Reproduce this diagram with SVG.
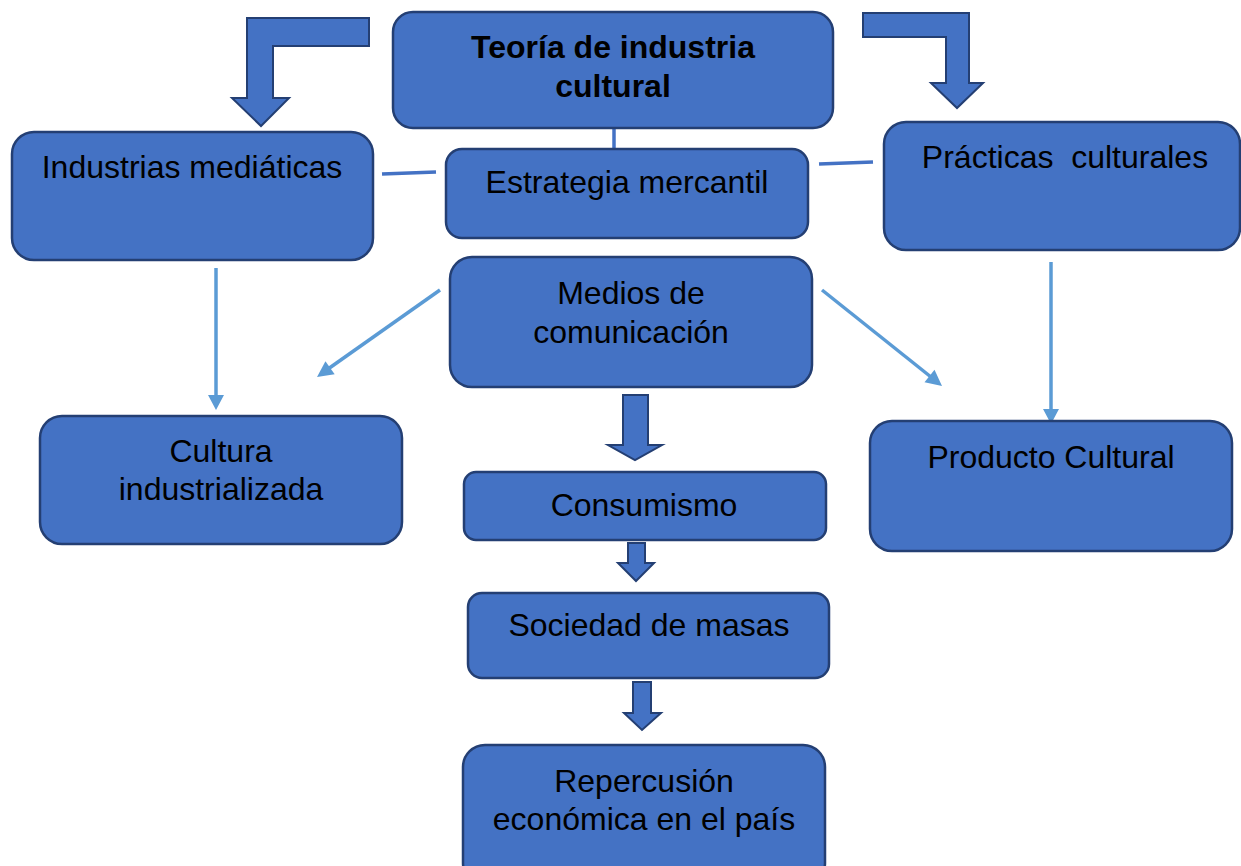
<svg xmlns="http://www.w3.org/2000/svg" width="1241" height="866" viewBox="0 0 1241 866">
<style>
.box{fill:#4472C4;stroke:#243F73;stroke-width:2.5}
.blk{fill:#4472C4;stroke:#243F73;stroke-width:2;stroke-linejoin:miter}
.t{font-family:"Liberation Sans",Arial,sans-serif;font-size:32px;fill:#000;text-anchor:middle;white-space:pre}
.b{font-weight:bold}
.ln{stroke:#4472C4;stroke-width:3.5;fill:none}
.ar{stroke:#5B9BD5;stroke-width:3.5;fill:none}
.ah{fill:#5B9BD5}
</style>
<rect width="1241" height="866" fill="#fff"/>
<g id="connectors">
<line class="ln" x1="614" y1="128" x2="614" y2="149"/>
<line class="ln" x1="382" y1="174" x2="436" y2="172"/>
<line class="ln" x1="819" y1="164" x2="873" y2="162"/>
<line class="ar" x1="216" y1="268" x2="216" y2="396"/>
<polygon class="ah" points="216,410 208,395 224,395"/>
<line class="ar" x1="440" y1="290" x2="328" y2="369"/>
<polygon class="ah" points="0,0 -16,-8 -16,8" transform="translate(317,377) rotate(144.7)"/>
<line class="ar" x1="822" y1="290" x2="931" y2="377"/>
<polygon class="ah" points="0,0 -16,-8 -16,8" transform="translate(942,386) rotate(38.7)"/>
<line class="ar" x1="1051" y1="262" x2="1051" y2="410"/>
<polygon class="ah" points="1051,424 1043,409 1059,409"/>
<polygon class="blk" points="369,18 247,18 247,98 232,98 261,126 289,98 273,98 273,46 369,46"/>
<polygon class="blk" points="863,13 969,13 969,83 983,83 957,108 931,83 946,83 946,37 863,37"/>
<polygon class="blk" points="623,395 648,395 648,445 662,445 635,460 608,445 623,445"/>
<polygon class="blk" points="628,543 645,543 645,563 654,563 636,581 618,563 628,563"/>
<polygon class="blk" points="633,682 651,682 651,713 661,713 642,730 624,713 633,713"/>
</g>
<g id="teoria">
<rect class="box" x="393" y="12" width="440" height="116" rx="20"/>
<text class="t b" x="613" y="58">Teoría de industria</text>
<text class="t b" x="613" y="97">cultural</text>
</g>
<g id="estrategia">
<rect class="box" x="446" y="149" width="362" height="89" rx="16"/>
<text class="t" x="627" y="193">Estrategia mercantil</text>
</g>
<g id="industrias">
<rect class="box" x="12" y="132" width="361" height="128" rx="22"/>
<text class="t" x="192" y="178">Industrias mediáticas</text>
</g>
<g id="practicas">
<rect class="box" x="884" y="122" width="356" height="128" rx="22"/>
<text class="t" x="1065" y="168">Prácticas  culturales</text>
</g>
<g id="medios">
<rect class="box" x="450" y="257" width="362" height="130" rx="22"/>
<text class="t" x="631" y="304">Medios de</text>
<text class="t" x="631" y="343">comunicación</text>
</g>
<g id="cultura">
<rect class="box" x="40" y="416" width="362" height="128" rx="22"/>
<text class="t" x="221" y="462">Cultura</text>
<text class="t" x="221" y="500">industrializada</text>
</g>
<g id="producto">
<rect class="box" x="870" y="421" width="362" height="130" rx="22"/>
<text class="t" x="1051" y="468">Producto Cultural</text>
</g>
<g id="consumismo">
<rect class="box" x="464" y="472" width="362" height="68" rx="12"/>
<text class="t" x="644" y="516">Consumismo</text>
</g>
<g id="sociedad">
<rect class="box" x="468" y="593" width="361" height="85" rx="14"/>
<text class="t" x="649" y="636">Sociedad de masas</text>
</g>
<g id="repercusion">
<rect class="box" x="463" y="745" width="362" height="140" rx="22"/>
<text class="t" x="644" y="792">Repercusión</text>
<text class="t" x="644" y="830">económica en el país</text>
</g>
</svg>
